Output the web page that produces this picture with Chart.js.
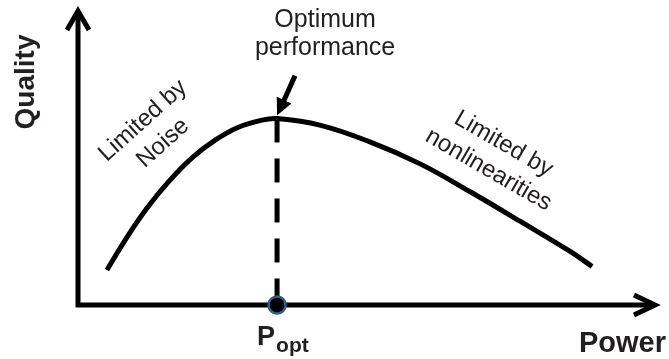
<!DOCTYPE html>
<html>
<head>
<meta charset="utf-8">
<title>Quality vs Power</title>
<script src="https://cdn.jsdelivr.net/npm/chart.js@4/dist/chart.umd.min.js"></script>
<style>
  html, body { margin: 0; padding: 0; background: #ffffff; }
  #wrap { width: 669px; height: 359px; position: relative; }
</style>
</head>
<body>
<div id="wrap"><canvas id="chart"></canvas></div>
<script>
// Quality curve sampled along the Power axis (arbitrary units, 0..10)
const powerValues   = [0.50, 0.87, 1.21, 1.56, 1.98, 2.37, 2.77, 3.19, 3.45, 4.19, 5.06, 5.93, 6.79, 7.66, 8.53, 8.91];
const qualityValues = [1.19, 2.37, 3.33, 4.17, 5.01, 5.60, 6.04, 6.29, 6.34, 6.12, 5.55, 4.80, 3.86, 2.85, 1.82, 1.31];

// Optimum operating point
const optimumPower   = [3.45];
const optimumQuality = [6.34];

// Axis extents
const axisRange = [0, 10];

// Text
const axisTitles   = ['Power', 'Quality'];
const optimumLabel = ['Optimum', 'performance'];
const noiseLabel   = ['Limited by', 'Noise'];
const nonlinLabel  = ['Limited by', 'nonlinearities'];
const pointLabel   = ['P', 'opt'];

const FONT = '"Liberation Sans", Arial, Helvetica, sans-serif';
const INK = '#231f20';

const curveData = powerValues.map((p, i) => ({ x: p, y: qualityValues[i] }));
const dropData = [
  { x: optimumPower[0], y: optimumQuality[0] },
  { x: optimumPower[0], y: axisRange[0] }
];
const dotData = [{ x: optimumPower[0], y: axisRange[0] }];

// Axes with open arrowheads, drawn under the datasets
const axesPlugin = {
  id: 'arrowAxes',
  beforeDatasetsDraw(chart) {
    const { ctx, scales: { x, y } } = chart;
    const x0 = x.getPixelForValue(axisRange[0]);
    const x1 = x.getPixelForValue(axisRange[1]);
    const y0 = y.getPixelForValue(axisRange[0]);
    const y1 = y.getPixelForValue(axisRange[1]);
    ctx.save();
    ctx.strokeStyle = '#000';
    ctx.lineWidth = 5;
    ctx.lineCap = 'butt';
    ctx.lineJoin = 'miter';
    // axis lines
    ctx.beginPath();
    ctx.moveTo(x0, y1 + 2);
    ctx.lineTo(x0, y0);
    ctx.lineTo(x1 - 2, y0);
    ctx.stroke();
    // vertical arrowhead
    ctx.beginPath();
    ctx.moveTo(x0 - 11, y1 + 19);
    ctx.lineTo(x0, y1);
    ctx.lineTo(x0 + 11, y1 + 19);
    ctx.stroke();
    // horizontal arrowhead
    ctx.beginPath();
    ctx.moveTo(x1 - 21, y0 - 10);
    ctx.lineTo(x1, y0);
    ctx.lineTo(x1 - 21, y0 + 10);
    ctx.stroke();
    ctx.restore();
  }
};

// Titles, annotations and the pointer arrow
const textPlugin = {
  id: 'annotations',
  afterDraw(chart) {
    const { ctx, scales: { x, y } } = chart;
    const px = x.getPixelForValue(optimumPower[0]);
    const py = y.getPixelForValue(optimumQuality[0]);
    const yBase = y.getPixelForValue(axisRange[0]);
    ctx.save();
    ctx.fillStyle = INK;

    // Quality (vertical)
    ctx.save();
    ctx.translate(26, 82);
    ctx.rotate(-Math.PI / 2);
    ctx.font = 'bold 28px ' + FONT;
    ctx.textAlign = 'center';
    ctx.textBaseline = 'middle';
    ctx.fillText(axisTitles[1], 0, 0);
    ctx.restore();

    // Power
    ctx.font = 'bold 29px ' + FONT;
    ctx.textAlign = 'right';
    ctx.textBaseline = 'alphabetic';
    ctx.fillText(axisTitles[0], 666, yBase + 47);

    // P_opt
    ctx.textAlign = 'left';
    ctx.font = 'bold 27px ' + FONT;
    const pLeft = px - 20;
    ctx.fillText(pointLabel[0], pLeft, yBase + 40);
    const pW = ctx.measureText(pointLabel[0]).width;
    ctx.font = 'bold 21px ' + FONT;
    ctx.fillText(pointLabel[1], pLeft + pW + 1, yBase + 47);

    // Optimum performance
    ctx.font = '25px ' + FONT;
    ctx.textAlign = 'center';
    ctx.fillText(optimumLabel[0], px + 48, 27);
    ctx.fillText(optimumLabel[1], px + 48, 55);

    // rotated region labels
    const block = (lines, cx, cy, deg, gap) => {
      ctx.save();
      ctx.translate(cx, cy);
      ctx.rotate(deg * Math.PI / 180);
      ctx.font = '24px ' + FONT;
      ctx.textAlign = 'center';
      ctx.textBaseline = 'middle';
      ctx.fillText(lines[0], 0, -gap / 2);
      ctx.fillText(lines[1], 0, gap / 2);
      ctx.restore();
    };
    block(noiseLabel, 153, 132, -42, 30);
    block(nonlinLabel, 496, 157, 30, 30);

    // pointer arrow to the optimum
    const tip = { x: px, y: py - 3 };
    const tail = { x: px + 18, y: py - 43 };
    const dx = tip.x - tail.x, dy = tip.y - tail.y;
    const len = Math.hypot(dx, dy);
    const ux = dx / len, uy = dy / len;
    const head = 17, half = 8;
    const bx = tip.x - ux * head, by = tip.y - uy * head;
    ctx.strokeStyle = '#000';
    ctx.fillStyle = '#000';
    ctx.lineWidth = 5;
    ctx.beginPath();
    ctx.moveTo(tail.x, tail.y);
    ctx.lineTo(bx + ux * 2, by + uy * 2);
    ctx.stroke();
    ctx.beginPath();
    ctx.moveTo(tip.x, tip.y);
    ctx.lineTo(bx - uy * half, by + ux * half);
    ctx.lineTo(bx + uy * half, by - ux * half);
    ctx.closePath();
    ctx.fill();
    ctx.restore();
  }
};

new Chart(document.getElementById('chart'), {
  type: 'scatter',
  data: {
    datasets: [
      {
        label: 'P_opt',
        data: dotData,
        showLine: false,
        pointRadius: 8.5,
        pointBorderWidth: 2.5,
        pointBackgroundColor: '#000000',
        pointBorderColor: '#2c5f8e',
        clip: false,
        order: 0
      },
      {
        label: 'drop',
        data: dropData,
        showLine: true,
        borderColor: '#000000',
        borderWidth: 5,
        borderDash: [24, 16],
        borderCapStyle: 'butt',
        pointRadius: 0,
        clip: false,
        order: 1
      },
      {
        label: 'Quality',
        data: curveData,
        showLine: true,
        borderColor: '#000000',
        borderWidth: 5,
        borderCapStyle: 'butt',
        borderJoinStyle: 'round',
        tension: 0.4,
        pointRadius: 0,
        clip: false,
        order: 2
      }
    ]
  },
  options: {
    responsive: true,
    maintainAspectRatio: false,
    animation: false,
    events: [],
    layout: { padding: { left: 78, right: 14, top: 10, bottom: 54 } },
    plugins: { legend: { display: false }, tooltip: { enabled: false } },
    scales: {
      x: { type: 'linear', min: axisRange[0], max: axisRange[1], display: false },
      y: { type: 'linear', min: axisRange[0], max: axisRange[1], display: false }
    }
  },
  plugins: [axesPlugin, textPlugin]
});
</script>
</body>
</html>
